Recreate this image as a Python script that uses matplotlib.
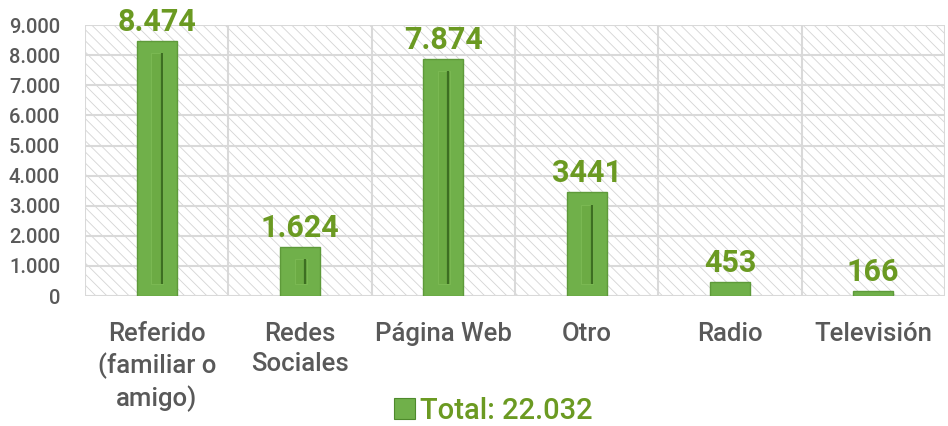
import matplotlib
matplotlib.use("Agg")
import matplotlib.pyplot as plt
from matplotlib.patches import Rectangle, Patch
import numpy as np

categories = ["Referido\n(familiar o\namigo)", "Redes\nSociales", "Página Web", "Otro", "Radio", "Televisión"]
values = [8474, 1624, 7874, 3441, 453, 166]
value_labels = ["8.474", "1.624", "7.874", "3441", "453", "166"]
yticks = [0, 1000, 2000, 3000, 4000, 5000, 6000, 7000, 8000, 9000]
ytick_labels = ["0", "1.000", "2.000", "3.000", "4.000", "5.000", "6.000", "7.000", "8.000", "9.000"]
legend_label = "Total: 22.032"

plt.rcParams['font.family'] = ['Roboto', 'DejaVu Sans']
plt.rcParams['hatch.linewidth'] = 0.6
plt.rcParams['hatch.color'] = '#d4d4d4'

GREEN = '#70b04a'
TXT_GREEN = '#6b9a22'
GRAY = '#595959'

fig = plt.figure(figsize=(9.48, 4.26), dpi=100)
ax = fig.add_axes([0.0897, 0.305, 0.907, 0.636])

n = len(categories)
x = np.arange(n)
ax.set_xlim(-0.5, n - 0.5)
ax.set_ylim(0, 9000)

# hatched background
ax.add_patch(Rectangle((0, 0), 1, 1, transform=ax.transAxes, facecolor='white',
                       edgecolor='#d4d4d4', hatch='\\\\\\', linewidth=0, zorder=0))

# grid
for b in np.arange(-0.5, n, 1.0):
    ax.axvline(b, color='#d9d9d9', lw=1.5, zorder=1)
for t in yticks:
    ax.axhline(t, color='#d9d9d9', lw=1.5, zorder=1)

bw = 0.28
ax.bar(x, values, width=bw, color=GREEN, edgecolor='#5e9a3a', linewidth=1.0, zorder=3)
# inner bevel
inset = 400
for xi, v in zip(x, values):
    h = v - 2 * inset
    if h > 0:
        ax.bar(xi + 0.005, h, bottom=inset, width=0.085, color='#6cab44',
               edgecolor='#7dbb55', linewidth=0.6, zorder=4)
        ax.vlines(xi + 0.035, inset, v - inset, color='#3d6e22', lw=1.6, zorder=5)

for xi, v, lab in zip(x, values, value_labels):
    ax.annotate(lab, (xi, v), xytext=(0, 3), textcoords='offset points',
                ha='center', va='bottom', fontsize=22, color=TXT_GREEN, fontweight='semibold', zorder=6)

ax.set_xticks(x)
ax.set_xticklabels(categories, fontsize=18.5, color=GRAY, linespacing=1.3, fontweight='medium')
ax.set_yticks(yticks)
ax.set_yticklabels(ytick_labels, fontsize=14.5, color=GRAY, fontweight='medium')
ax.tick_params(axis='both', length=0)
ax.tick_params(axis='y', pad=18)
ax.tick_params(axis='x', pad=19)
for s in ax.spines.values():
    s.set_visible(False)

handle = Patch(facecolor=GREEN, edgecolor='#4e8a2c', linewidth=0.8)
leg = fig.legend([handle], [legend_label], loc='center', bbox_to_anchor=(0.52, 0.036),
                 frameon=False, fontsize=21, handlelength=0.75, handleheight=0.75,
                 handletextpad=0.15, borderpad=0, borderaxespad=0)
for t in leg.get_texts():
    t.set_color(TXT_GREEN)
    t.set_fontweight('medium')

fig.savefig("out.png", dpi=100)
